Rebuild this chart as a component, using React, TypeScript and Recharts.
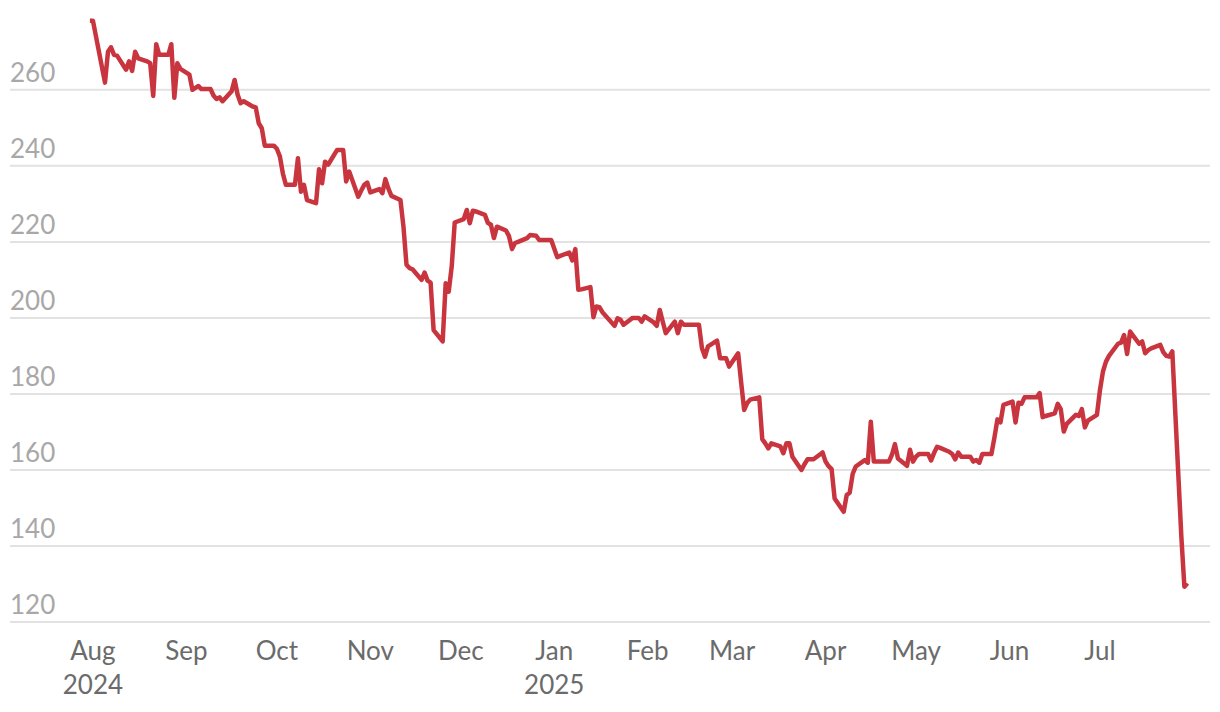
import { CartesianGrid, Line, LineChart, XAxis, YAxis } from "recharts"

const dates = [
  "2024-07-31", "2024-08-01", "2024-08-05", "2024-08-06", "2024-08-07", "2024-08-08", "2024-08-09",
  "2024-08-12", "2024-08-13", "2024-08-14", "2024-08-15", "2024-08-16", "2024-08-19", "2024-08-20",
  "2024-08-21", "2024-08-22", "2024-08-23", "2024-08-26", "2024-08-27", "2024-08-28", "2024-08-29",
  "2024-08-30", "2024-09-02", "2024-09-03", "2024-09-04", "2024-09-05", "2024-09-06", "2024-09-09",
  "2024-09-10", "2024-09-11", "2024-09-12", "2024-09-13", "2024-09-16", "2024-09-17", "2024-09-18",
  "2024-09-19", "2024-09-20", "2024-09-23", "2024-09-24", "2024-09-25", "2024-09-26", "2024-09-27",
  "2024-09-30", "2024-10-01", "2024-10-02", "2024-10-03", "2024-10-04", "2024-10-07", "2024-10-08",
  "2024-10-09", "2024-10-10", "2024-10-11", "2024-10-14", "2024-10-15", "2024-10-16", "2024-10-17",
  "2024-10-18", "2024-10-21", "2024-10-22", "2024-10-23", "2024-10-24", "2024-10-25", "2024-10-28",
  "2024-10-29", "2024-10-30", "2024-10-31", "2024-11-01", "2024-11-04", "2024-11-05", "2024-11-06",
  "2024-11-07", "2024-11-08", "2024-11-11", "2024-11-12", "2024-11-13", "2024-11-14", "2024-11-15",
  "2024-11-18", "2024-11-19", "2024-11-20", "2024-11-21", "2024-11-22", "2024-11-25", "2024-11-26",
  "2024-11-27", "2024-11-28", "2024-11-29", "2024-12-02", "2024-12-03", "2024-12-04", "2024-12-05",
  "2024-12-06", "2024-12-09", "2024-12-10", "2024-12-11", "2024-12-12", "2024-12-13", "2024-12-16",
  "2024-12-17", "2024-12-18", "2024-12-19", "2024-12-20", "2024-12-23", "2024-12-24", "2024-12-26",
  "2024-12-27", "2024-12-30", "2024-12-31", "2025-01-02", "2025-01-03", "2025-01-06", "2025-01-07",
  "2025-01-08", "2025-01-09", "2025-01-10", "2025-01-13", "2025-01-14", "2025-01-15", "2025-01-16",
  "2025-01-17", "2025-01-21", "2025-01-22", "2025-01-23", "2025-01-24", "2025-01-27", "2025-01-28",
  "2025-01-29", "2025-01-30", "2025-01-31", "2025-02-03", "2025-02-04", "2025-02-05", "2025-02-06",
  "2025-02-07", "2025-02-10", "2025-02-11", "2025-02-12", "2025-02-13", "2025-02-14", "2025-02-18",
  "2025-02-19", "2025-02-20", "2025-02-21", "2025-02-24", "2025-02-25", "2025-02-26", "2025-02-27",
  "2025-02-28", "2025-03-03", "2025-03-04", "2025-03-05", "2025-03-06", "2025-03-07", "2025-03-10",
  "2025-03-11", "2025-03-12", "2025-03-13", "2025-03-14", "2025-03-17", "2025-03-18", "2025-03-19",
  "2025-03-20", "2025-03-21", "2025-03-24", "2025-03-25", "2025-03-26", "2025-03-27", "2025-03-28",
  "2025-03-31", "2025-04-01", "2025-04-02", "2025-04-03", "2025-04-04", "2025-04-07", "2025-04-08",
  "2025-04-09", "2025-04-10", "2025-04-11", "2025-04-14", "2025-04-15", "2025-04-16", "2025-04-17",
  "2025-04-22", "2025-04-23", "2025-04-24", "2025-04-25", "2025-04-28", "2025-04-29", "2025-04-30",
  "2025-05-01", "2025-05-02", "2025-05-05", "2025-05-06", "2025-05-07", "2025-05-08", "2025-05-09",
  "2025-05-12", "2025-05-13", "2025-05-14", "2025-05-15", "2025-05-16", "2025-05-19", "2025-05-20",
  "2025-05-21", "2025-05-22", "2025-05-23", "2025-05-26", "2025-05-27", "2025-05-28", "2025-05-29",
  "2025-05-30", "2025-06-02", "2025-06-03", "2025-06-04", "2025-06-05", "2025-06-06", "2025-06-09",
  "2025-06-10", "2025-06-11", "2025-06-12", "2025-06-13", "2025-06-16", "2025-06-17", "2025-06-18",
  "2025-06-19", "2025-06-20", "2025-06-23", "2025-06-24", "2025-06-25", "2025-06-26", "2025-06-27",
  "2025-06-30", "2025-07-01", "2025-07-02", "2025-07-03", "2025-07-04", "2025-07-07", "2025-07-08",
  "2025-07-09", "2025-07-10", "2025-07-11", "2025-07-14", "2025-07-15", "2025-07-16", "2025-07-17",
  "2025-07-18", "2025-07-21", "2025-07-22", "2025-07-23", "2025-07-24", "2025-07-25", "2025-07-28",
  "2025-07-29", "2025-07-30",
]

const values = [
  278.2, 278.2, 261.9, 270, 271.2, 269.2, 269,
  265.3, 267.5, 265, 270, 268.3, 267.5, 267,
  258.4, 272, 269.2, 269.2, 272, 257.9, 267,
  265.5, 264, 260, 260.5, 261, 260.2, 260.2,
  258.5, 257.6, 258, 257, 259.6, 262.6, 258.7,
  256.5, 257, 255.6, 255.4, 251.2, 249.9, 245.3,
  245.3, 244.5, 242.5, 238, 235, 235, 242,
  233.2, 235, 231, 230.2, 239.1, 235.4, 241.1,
  240.3, 244.2, 244.2, 244.2, 235.9, 238.5, 231.9,
  233.5, 235, 235.6, 233, 233.9, 232.8, 236.5,
  234, 232.1, 231, 224, 214, 213.1, 212.8,
  210, 211.9, 209.8, 209.3, 196.8, 193.8, 209.1,
  206.9, 213.5, 225.1, 226, 228.4, 224.9, 228.2,
  228, 227.1, 225, 224.5, 221, 224, 223,
  221.5, 218.1, 219.7, 220, 221, 221.8, 221.6,
  220.5, 220.5, 220.5, 216, 216.3, 217.2, 215.1,
  218.1, 207.4, 207.5, 208.1, 200.2, 203, 202.8,
  201.5, 197.9, 199.9, 199.5, 198.2, 200, 200,
  200, 199, 200.4, 198.8, 197.9, 202.1, 199,
  196, 199, 196, 199, 198.2, 198.2, 198.2,
  192, 189.8, 192.5, 194, 189.4, 189.4, 189.4,
  187.2, 190.7, 183, 175.8, 177.6, 178.5, 179.1,
  168.1, 167, 165.7, 167, 166.2, 164.4, 167,
  167, 163.5, 160, 161.5, 162.8, 162.8, 162.8,
  164.6, 162.2, 161, 160.2, 152.5, 149, 153.4,
  154, 159, 160.9, 162.6, 161.9, 172.7, 162.2,
  162.2, 164, 166.8, 163, 161.1, 165.3, 162.2,
  163.5, 164.2, 164.2, 162.5, 164.5, 166.1, 165.8,
  164.8, 164.2, 162.8, 164.6, 163.5, 163.5, 162.2,
  162.6, 161.9, 164.2, 164.2, 168.5, 173.3, 172.5,
  177.1, 178, 172.5, 177.7, 177.4, 179.1, 179.1,
  179.1, 180.2, 173.9, 174.2, 174.9, 177.4, 176,
  170.1, 172.1, 174.5, 174.2, 176, 171.2, 173,
  174.5, 181, 185.9, 188.5, 190, 193.2, 193.5,
  195.5, 190.5, 196.4, 193.2, 193.8, 190.7, 191.5,
  192, 192.9, 191, 190, 189.8, 191.2, 142.4,
  129.3, 130.2,
]

const monthTicks = [
  "2024-08-01", "2024-09-01", "2024-10-01", "2024-11-01", "2024-12-01", "2025-01-01",
  "2025-02-01", "2025-03-01", "2025-04-01", "2025-05-01", "2025-06-01", "2025-07-01",
]
const monthLabels = ["Aug", "Sep", "Oct", "Nov", "Dec", "Jan", "Feb", "Mar", "Apr", "May", "Jun", "Jul"]
const yearLabels = ["2024", "", "", "", "", "2025", "", "", "", "", "", ""]

const yTicks = [120, 140, 160, 180, 200, 220, 240, 260]

const DAY = 86400000
const ts = (d: string) => new Date(d + "T00:00:00Z").getTime()

const data = dates.map((d, i) => ({ t: ts(d), value: values[i] }))
const tickTimes = monthTicks.map(ts)
const xDomain = [ts("2024-08-01") - 27.5 * DAY, ts("2024-08-01") + 370.5 * DAY]

const FONT = "Lato, 'Open Sans', sans-serif"

function MonthTick(props: any) {
  const { x, y, payload } = props
  const i = tickTimes.indexOf(payload.value)
  return (
    <g>
      <text x={x} y={y} dy={30} textAnchor="middle" fill="#6b6b6b" fontSize={26} fontFamily={FONT}>
        {monthLabels[i]}
      </text>
      {yearLabels[i] && (
        <text x={x} y={y} dy={64} textAnchor="middle" fill="#6b6b6b" fontSize={26} fontFamily={FONT}>
          {yearLabels[i]}
        </text>
      )}
    </g>
  )
}

function ValueTick(props: any) {
  const { y, payload } = props
  return (
    <text x={10} y={y} dy={-8} textAnchor="start" fill="#a8a8a8" fontSize={26} fontFamily={FONT}>
      {payload.value}
    </text>
  )
}

export default function App() {
  return (
    <div style={{ position: "absolute", left: 0, top: 0, background: "#fff" }}>
      <LineChart width={1220} height={712} data={data} margin={{ top: 10, right: 10, bottom: 0, left: 0 }}>
        <CartesianGrid vertical={false} horizontalValues={yTicks} stroke="#e2e2e2" strokeWidth={2} />
        <XAxis
          dataKey="t"
          type="number"
          scale="time"
          domain={xDomain}
          ticks={tickTimes}
          tick={<MonthTick />}
          axisLine={false}
          tickLine={false}
          height={90}
          interval={0}
          allowDataOverflow
        />
        <YAxis
          type="number"
          domain={[120, 281]}
          ticks={yTicks}
          tick={<ValueTick />}
          axisLine={false}
          tickLine={false}
          width={10}
          interval={0}
          allowDataOverflow
        />
        <Line
          type="linear"
          dataKey="value"
          stroke="#c9353f"
          strokeWidth={4.5}
          strokeLinejoin="round"
          dot={false}
          activeDot={false}
          isAnimationActive={false}
        />
      </LineChart>
    </div>
  )
}
